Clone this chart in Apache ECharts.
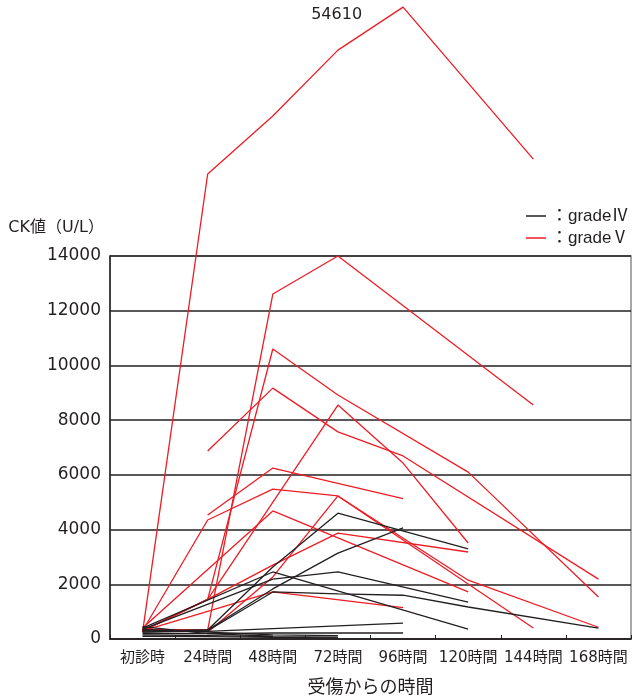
<!DOCTYPE html>
<html>
<head>
<meta charset="utf-8">
<script src="https://cdn.jsdelivr.net/npm/echarts@6/dist/echarts.min.js"></script>
<style>
  html, body { margin: 0; padding: 0; background: #fff; }
  #chart { width: 641px; height: 697px; }
</style>
</head>
<body>
<div id="chart"></div>
<script>
// Time points after injury
const categories = ['初診時', '24時間', '48時間', '72時間', '96時間', '120時間', '144時間', '168時間'];

// Y axis ticks (U/L)
const yTicks = [0, 2000, 4000, 6000, 8000, 10000, 12000, 14000];

// CK values per patient, grade V (red)
const v1  = [250, 27380, 36840, 47600, 54610, null, 29820, null];
const v2  = [350, 330, 12610, 14000, null, null, 8550, null];
const v3  = [300, 1450, 10600, 8920, null, 6100, null, 1535];
const v4  = [300, 4350, 5480, 5230, null, 2150, null, 430];
const v5  = [null, 4530, 6250, null, 5130, null, null, null];
const v6  = [null, 6870, 9170, 7570, 6690, null, null, 2190];
const v7  = [null, 250, 2270, 5230, null, null, 400, null];
const v8  = [400, null, 4680, null, null, 1720, null, null];
const v9  = [300, null, 1720, null, 1150, null, null, null];
const v10 = [300, 1450, 2700, 3870, null, 3180, null, null];
const v11 = [300, 1450, null, 8550, 6430, 3510, null, null];

// CK values per patient, grade IV (black)
const iv1  = [300, 330, 2630, 4600, null, 3290, null, null];
const iv2  = [250, 330, 1830, 3140, 4060, null, null, null];
const iv3  = [350, null, 2190, 2450, null, 1350, null, null];
const iv4  = [400, null, 2450, null, null, 365, null, null];
const iv5  = [300, 300, 1720, 1650, 1600, 1170, null, 400];
const iv6  = [250, 280, 380, null, 580, null, null, null];
const iv7  = [200, 200, 220, null, 220, null, null, null];
const iv8  = [150, 120, 90, 70, null, null, null, null];
const iv9  = [100, 90, 60, 40, null, null, null, null];
const iv10 = [350, 250, 150, 120, null, null, null, null];
const iv11 = [450, 200, 100, null, null, null, null, null];

const gradeV  = [v1, v2, v3, v4, v5, v6, v7, v8, v9, v10, v11];
const gradeIV = [iv1, iv2, iv3, iv4, iv5, iv6, iv7, iv8, iv9, iv10, iv11];

const NAME_IV = 'gradeⅣ';
const NAME_V = 'gradeⅤ';
const RED = '#ed1c24';
const BLACK = '#231f20';

// Values above the top tick are drawn on a compressed scale above the frame
const BREAK = 14000;
const UPPER_RATIO = 0.224;
function toAxis(v) {
  if (v == null) return null;
  return v <= BREAK ? v : BREAK + (v - BREAK) * UPPER_RATIO;
}

const FONT = '"DejaVu Sans", "Noto Sans CJK JP", sans-serif';
const LEGEND_FONT = '"Liberation Sans", "Noto Sans CJK JP", sans-serif';

function makeSeries(values, name, color) {
  let peak = -1, peakIdx = -1;
  values.forEach((v, i) => { if (v != null && v > peak) { peak = v; peakIdx = i; } });
  const showPeak = peak > BREAK * 2;
  return {
    type: 'line',
    name: name,
    clip: false,
    connectNulls: true,
    symbol: 'circle',
    symbolSize: 0,
    showSymbol: true,
    silent: true,
    lineStyle: { color: color, width: 1.3 },
    itemStyle: { color: color },
    emphasis: { disabled: true },
    data: values.map((v, i) => {
      const item = { value: toAxis(v) };
      if (showPeak && i === peakIdx) {
        item.label = {
          show: true,
          position: 'left',
          distance: 41,
          offset: [0, 8],
          formatter: String(v),
          fontFamily: FONT,
          fontSize: 16,
          color: BLACK
        };
      }
      return item;
    })
  };
}

const series = [];
gradeV.forEach(d => series.push(makeSeries(d, NAME_V, RED)));
gradeIV.forEach(d => series.push(makeSeries(d, NAME_IV, BLACK)));

const chart = echarts.init(document.getElementById('chart'), null, { renderer: 'canvas' });
chart.setOption({
  animation: false,
  backgroundColor: '#fff',
  grid: {
    left: 110, right: 10, top: 256, bottom: 58,
    containLabel: false,
    outerBoundsMode: 'none',
    show: true, borderColor: '#8a8a8a', borderWidth: 1.5
  },
  legend: {
    data: [NAME_IV, NAME_V],
    orient: 'vertical',
    left: 521,
    top: 200,
    icon: 'rect',
    itemWidth: 20,
    itemHeight: 1.5,
    itemGap: 0,
    selectedMode: false,
    formatter: name => '：' + name,
    textStyle: { fontFamily: LEGEND_FONT, fontSize: 17, color: BLACK, lineHeight: 22 }
  },
  xAxis: {
    type: 'category',
    data: categories,
    boundaryGap: true,
    name: '受傷からの時間',
    nameLocation: 'middle',
    nameGap: 40,
    nameTextStyle: { fontFamily: FONT, fontSize: 18, color: BLACK },
    axisLine: { lineStyle: { color: BLACK, width: 1.5 } },
    axisTick: { show: true, inside: true, length: 4, lineStyle: { color: BLACK } },
    axisLabel: { fontFamily: FONT, fontSize: 15, color: BLACK, margin: 12, interval: 0 },
    splitLine: { show: false }
  },
  yAxis: {
    type: 'value',
    min: yTicks[0],
    max: yTicks[yTicks.length - 1],
    interval: yTicks[1] - yTicks[0],
    name: 'CK値（U/L）',
    nameLocation: 'end',
    nameGap: 28,
    nameTextStyle: { fontFamily: FONT, fontSize: 16, color: BLACK, align: 'right', verticalAlign: 'middle', padding: [0, 6, 0, 0] },
    axisLine: { show: true, lineStyle: { color: BLACK, width: 1.5 } },
    axisTick: { show: false },
    axisLabel: { fontFamily: FONT, fontSize: 17, color: BLACK, margin: 9, formatter: v => String(v) },
    splitLine: { show: true, lineStyle: { color: BLACK, width: 1.5 } }
  },
  series: series
});
</script>
</body>
</html>
